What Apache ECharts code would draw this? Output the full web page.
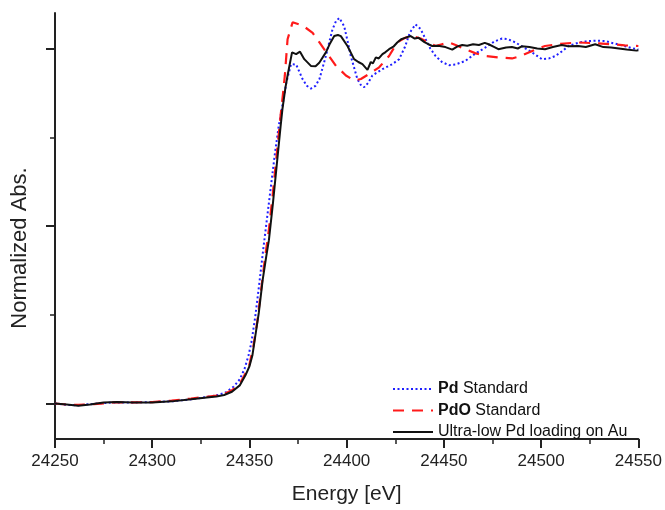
<!DOCTYPE html>
<html>
<head>
<meta charset="utf-8">
<script src="https://cdn.jsdelivr.net/npm/echarts@6/dist/echarts.min.js"></script>
<style>html,body{margin:0;padding:0;background:#fff}#c{width:665px;height:510px}</style>
</head>
<body>
<div id="c"></div>
<script>
// ---- data ----
const seriesNames = ['Pd Standard', 'PdO Standard', 'Ultra-low Pd loading on Au'];

const pdEnergy = [24250,24256,24262,24270,24280,24290,24300,24310,24320,24328,24334,24338,24342,24345,24347.5,24349.5,24351,24353,24355,24357,24359,24361,24363,24365,24367,24369,24371.4,24374,24377.3,24379.5,24381.6,24384,24386,24389.3,24392.7,24394.5,24396.2,24398.7,24400.5,24402.1,24405.5,24407.5,24409,24411,24413.2,24418.4,24423.5,24427,24430,24432.5,24435.4,24438,24440.6,24443,24445.7,24449,24452.6,24456,24461,24466,24471.4,24476,24479.9,24483,24486.8,24491,24495.3,24500.4,24504,24507.3,24511,24514,24519,24524,24529,24533,24537,24541.4,24546,24550];
const pdValue = [0.0,-0.004,-0.005,-0.001,0.003,0.003,0.004,0.006,0.012,0.018,0.024,0.032,0.048,0.068,0.098,0.135,0.172,0.245,0.335,0.43,0.52,0.61,0.70,0.78,0.84,0.905,0.956,0.955,0.914,0.895,0.887,0.895,0.914,0.979,1.054,1.077,1.086,1.063,1.02,0.979,0.914,0.895,0.891,0.903,0.924,0.942,0.956,0.970,1.005,1.045,1.068,1.055,1.026,1.0,0.979,0.962,0.953,0.955,0.965,0.985,1.003,1.02,1.028,1.026,1.017,1.003,0.989,0.970,0.972,0.979,0.993,1.007,1.016,1.021,1.022,1.021,1.015,1.009,1.002,0.997];

const pdoEnergy = [24250,24256,24262,24270,24280,24290,24300,24310,24320,24328,24333,24337,24341,24345,24348,24350,24352,24354,24356,24358,24360,24362,24364,24366,24367.2,24368.2,24369.6,24372.2,24377.3,24382.5,24386,24390.2,24394.5,24399.6,24403.8,24407.3,24411.5,24416.7,24421.8,24426,24430,24433.8,24438,24441,24445.7,24449,24452.6,24456,24461,24466,24471,24478,24485,24489,24493.6,24498,24502,24510,24519,24527,24536,24543,24550];
const pdoValue = [0.0,-0.003,-0.004,-0.002,0.003,0.003,0.004,0.008,0.014,0.019,0.022,0.027,0.037,0.055,0.085,0.11,0.16,0.23,0.32,0.41,0.49,0.59,0.70,0.81,0.87,0.924,1.026,1.074,1.065,1.044,1.017,0.984,0.951,0.924,0.910,0.914,0.928,0.947,0.979,1.017,1.030,1.035,1.028,1.02,1.007,1.012,1.017,1.01,0.998,0.987,0.979,0.975,0.972,0.978,0.989,0.999,1.007,1.013,1.017,1.015,1.012,1.009,1.007];

const sampleEnergy = [24250,24256,24262,24268,24275,24282,24290,24300,24310,24320,24328,24333,24337,24341,24345,24348,24350,24351.5,24353,24354.8,24356.8,24358.6,24360,24362,24364,24366,24367,24368.5,24369.6,24371.9,24374,24376,24378.2,24381.6,24384,24385.9,24389.3,24391.5,24393.6,24395.5,24397,24400.4,24403.8,24406,24408.1,24410.7,24412.4,24413.5,24415,24416.5,24418.4,24420,24421.8,24424,24426,24428,24430,24432.9,24435,24437,24440,24442,24444,24447,24450.8,24454.3,24457,24459.4,24462,24465,24468,24471,24473,24476,24478,24482,24485,24488,24490,24494,24498,24502,24506,24510.6,24514,24519,24523,24527.8,24532,24536,24540,24544,24549,24550];
const sampleValue = [0.0,-0.003,-0.006,-0.003,0.003,0.004,0.003,0.003,0.006,0.012,0.017,0.02,0.024,0.033,0.051,0.08,0.105,0.135,0.19,0.255,0.348,0.413,0.46,0.56,0.67,0.78,0.831,0.89,0.924,0.989,0.984,0.991,0.970,0.951,0.950,0.960,0.989,1.015,1.035,1.038,1.035,1.007,0.970,0.962,0.956,0.940,0.962,0.958,0.975,0.972,0.984,0.990,0.998,1.005,1.017,1.026,1.030,1.035,1.028,1.030,1.018,1.012,1.007,1.008,1.004,0.997,1.006,1.010,1.008,1.012,1.010,1.016,1.012,1.004,0.998,1.003,1.004,1.000,1.006,1.004,1.000,0.998,1.004,1.010,1.006,1.007,1.004,1.012,1.004,1.003,1.000,0.997,0.994,0.995];

const xTickInterval = 50;
const yMajorTicks = [0, 0.5, 1];
const yMinorTicks = [0.25, 0.75];

function pairs(xs, ys) { return xs.map((x, i) => [x, ys[i]]); }

const FONT = '"Liberation Sans", Arial, sans-serif';
const AX = '#222';

const chart = echarts.init(document.getElementById('c'), null, { renderer: 'canvas' });
chart.setOption({
  backgroundColor: '#fff',
  animation: false,
  grid: { left: 55, right: 25, top: 13, bottom: 66, containLabel: false },
  xAxis: {
    type: 'value', min: 24250, max: 24550, interval: xTickInterval,
    name: 'Energy [eV]', nameLocation: 'middle', nameGap: 45,
    nameTextStyle: { fontFamily: FONT, fontSize: 21, color: '#222' },
    axisLine: { show: true, onZero: false, lineStyle: { color: AX, width: 2 } },
    axisTick: { show: true, inside: false, length: 9, lineStyle: { color: AX, width: 2 } },
    minorTick: { show: true, splitNumber: 2, length: 5, lineStyle: { color: AX, width: 1.5 } },
    axisLabel: { fontFamily: FONT, fontSize: 17, color: '#222', margin: 14, formatter: v => String(v) },
    splitLine: { show: false }, minorSplitLine: { show: false }
  },
  yAxis: [{
    type: 'value', min: -0.1, max: 1.1, position: 'left',
    axisLine: { show: true, onZero: false, lineStyle: { color: AX, width: 2 } },
    axisTick: { show: true, inside: false, length: 9, customValues: yMajorTicks, lineStyle: { color: AX, width: 2 } },
    axisLabel: { show: false },
    splitLine: { show: false }
  }, {
    type: 'value', min: -0.1, max: 1.1, position: 'left', offset: 0,
    axisLine: { show: false, onZero: false },
    axisTick: { show: true, inside: false, length: 5, customValues: yMinorTicks, lineStyle: { color: AX, width: 1.5 } },
    axisLabel: { show: false },
    splitLine: { show: false }
  }],
  legend: {
    orient: 'vertical', left: 387, top: 376,
    itemWidth: 40, itemHeight: 14, itemGap: 5.5,
    data: seriesNames,
    itemStyle: { opacity: 0 },
    textStyle: {
      fontFamily: FONT, fontSize: 16, color: '#111', lineHeight: 16,
      rich: { b: { fontFamily: FONT, fontSize: 16, fontWeight: 'bold', color: '#111', lineHeight: 16 },
              n: { fontFamily: FONT, fontSize: 16, color: '#111', lineHeight: 16 } }
    },
    formatter: function (name) {
      if (name === 'Pd Standard') return '{b|Pd}{n| Standard}';
      if (name === 'PdO Standard') return '{b|PdO}{n| Standard}';
      return name;
    }
  },
  graphic: [{
    type: 'text', x: 20, y: 248, rotation: Math.PI / 2,
    style: { text: 'Normalized Abs.', fontFamily: FONT, fontSize: 22, fill: '#222', align: 'center', verticalAlign: 'middle' }
  }],
  series: [{
    name: seriesNames[0], type: 'line', showSymbol: false, symbol: 'none',
    data: pairs(pdEnergy, pdValue),
    lineStyle: { color: '#1f1fff', width: 2, type: [2, 2.5] },
    itemStyle: { color: '#1f1fff' }
  }, {
    name: seriesNames[1], type: 'line', showSymbol: false, symbol: 'none',
    data: pairs(pdoEnergy, pdoValue),
    lineStyle: { color: '#ff1a1a', width: 2.2, type: [11, 8] },
    itemStyle: { color: '#ff1a1a' }
  }, {
    name: seriesNames[2], type: 'line', showSymbol: false, symbol: 'none',
    data: pairs(sampleEnergy, sampleValue),
    lineStyle: { color: '#111', width: 2 },
    itemStyle: { color: '#111' }
  }]
});
</script>
</body>
</html>
